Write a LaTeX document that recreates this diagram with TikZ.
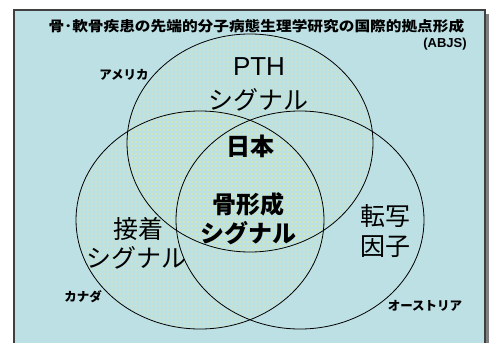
\documentclass[tikz,border=0pt]{standalone}
\usepackage{fontspec}
\setmainfont{Liberation Sans}
\newfontfamily\jp{Noto Sans CJK JP}
\newfontfamily\jpblk{Noto Sans CJK JP Black}
\usetikzlibrary{patterns}
\pgfdeclarepatternformonly{ydots}{\pgfqpoint{-0.6pt}{-0.6pt}}{\pgfqpoint{0.6pt}{0.6pt}}{\pgfqpoint{4pt}{4pt}}{%
  \pgfpathcircle{\pgfqpoint{0pt}{0pt}}{0.55pt}\pgfusepath{fill}}
\definecolor{bgc}{RGB}{189,224,228}
\definecolor{dotc}{RGB}{238,240,110}
\definecolor{shadowc}{RGB}{128,128,128}
\tikzset{
  big/.style={inner sep=0pt, font=\jp\fontsize{25}{27}\selectfont},
  bigb/.style={inner sep=0pt, font=\jpblk\fontsize{24}{26}\selectfont},
  small/.style={inner sep=0pt, font=\jpblk\fontsize{12.5}{14}\selectfont},
  venn/.style={draw=black, line width=0.8pt},
}
\begin{document}
\begin{tikzpicture}[x=1pt,y=-1pt]
\useasboundingbox (0,0) rectangle (494,342);
\fill[shadowc] (18,14) rectangle (489,350);
\draw[fill=bgc, draw=black!75, line width=1.2pt] (14,10) rectangle (485,350);
% dotted fills
\fill[pattern=ydots, pattern color=dotc] (250,143) ellipse [x radius=123pt, y radius=109pt];
\fill[pattern=ydots, pattern color=dotc] (200,220) ellipse [x radius=124pt, y radius=109pt];
% outlines
\draw[venn] (250,143) ellipse [x radius=123pt, y radius=109pt];
\draw[venn] (200,220) ellipse [x radius=124pt, y radius=109pt];
\draw[venn] (300,220) ellipse [x radius=124pt, y radius=109pt];
% title
\node[inner sep=0pt, font=\jpblk\fontsize{14}{16}\selectfont] (title) at (256.5,26)
  {\scalebox{1.12}[1]{骨･軟骨疾患の先端的分子病態生理学研究の国際的拠点形成}};
\node[inner sep=0pt, font=\bfseries\fontsize{13}{15}\selectfont] (abjs) at (445,44) {(ABJS)};
% labels
\node[small] (usa) at (124,75) {アメリカ};
\node[small] (can) at (83,297) {カナダ};
\node[small] (aus) at (425,306) {オーストリア};
\node[inner sep=0pt, font=\fontsize{26}{28}\selectfont] (pth) at (259,67) {PTH};
\node[big] (sig1) at (258,100) {シグナル};
\node[bigb] (jp) at (250,146) {日本};
\node[bigb] (bone) at (248,204) {骨形成};
\node[bigb] (sig2) at (248,233) {シグナル};
\node[big] (adh) at (138,229) {接着};
\node[big] (sig3) at (136,258) {シグナル};
\node[big] (tr) at (385,216) {転写};
\node[big] (fac) at (385,247) {因子};
\end{tikzpicture}
\end{document}
